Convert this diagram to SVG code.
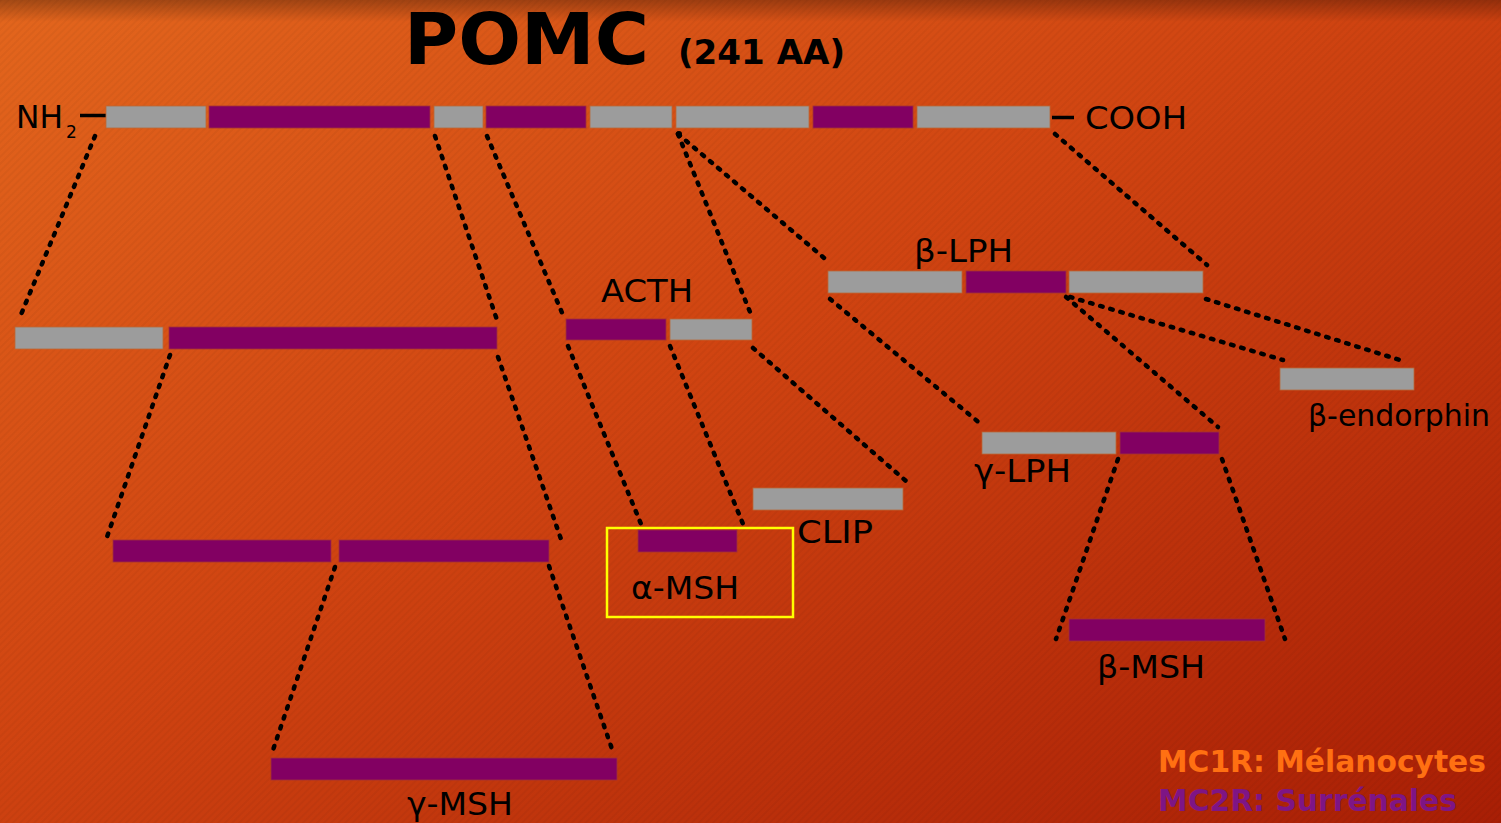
<svg xmlns="http://www.w3.org/2000/svg" width="1501" height="823" viewBox="0 0 1501 823">
<defs>
<linearGradient id="bg" x1="0" y1="0" x2="1" y2="1">
<stop offset="0" stop-color="#e3661d"/>
<stop offset="0.45" stop-color="#d04411"/>
<stop offset="1" stop-color="#a81e05"/>
</linearGradient>
<linearGradient id="topshade" x1="0" y1="0" x2="0" y2="1">
<stop offset="0" stop-color="#000" stop-opacity="0.28"/>
<stop offset="1" stop-color="#000" stop-opacity="0"/>
</linearGradient>
<pattern id="stripes" width="5" height="5" patternUnits="userSpaceOnUse" patternTransform="rotate(-45)">
<rect width="5" height="2" fill="#000" opacity="0.035"/>
</pattern>
<style>
.g{fill:#9c9c9c;stroke:#b8693a;stroke-width:0.8}
.p{fill:#820062;stroke:#a0303a;stroke-width:0.8}
.d{fill:none;stroke:#000;stroke-width:4.5;stroke-dasharray:2.5 8;stroke-linecap:round}
.t{font-family:"DejaVu Sans","Liberation Sans",sans-serif;font-size:32.5px;fill:#000}
.tb{font-family:"DejaVu Sans","Liberation Sans",sans-serif;font-weight:bold;fill:#000}
.lg{font-family:"DejaVu Sans","Liberation Sans",sans-serif;font-weight:bold;font-size:30px}
</style>
</defs>
<rect width="1501" height="823" fill="url(#bg)"/>
<rect width="1501" height="823" fill="url(#stripes)"/>
<rect width="1501" height="22" fill="url(#topshade)"/>

<g id="title">
<text class="tb" x="404" y="64" font-size="72" textLength="245" lengthAdjust="spacingAndGlyphs">POMC</text>
<text class="tb" x="678" y="64" font-size="34" textLength="167" lengthAdjust="spacingAndGlyphs">(241 AA)</text>
</g>

<g id="connectors">
<path class="d" d="M95,136 L20,317"/>
<path class="d" d="M435,136 L497,320"/>
<path class="d" d="M487,136 L563,315"/>
<path class="d" d="M678,134 L750,312"/>
<path class="d" d="M678,134 L830,263"/>
<path class="d" d="M1055,134 L1207,265"/>
<path class="d" d="M170,355 L107,537"/>
<path class="d" d="M498,357 L562,542"/>
<path class="d" d="M335,567 L273,750"/>
<path class="d" d="M549,566 L612,749"/>
<path class="d" d="M568,346 L641,524"/>
<path class="d" d="M670,346 L743,524"/>
<path class="d" d="M753,348 L906,481"/>
<path class="d" d="M830,299 L982,425"/>
<path class="d" d="M1066,297 L1218,427"/>
<path class="d" d="M1070,297 L1283,360"/>
<path class="d" d="M1206,299 L1403,361"/>
<path class="d" d="M1118,459 L1056,639"/>
<path class="d" d="M1222,459 L1285,639"/>
<circle cx="679" cy="134" r="3" fill="#000"/>
</g>

<g id="pomc">
<line x1="80" y1="115.5" x2="106" y2="115.5" stroke="#000" stroke-width="3.5"/>
<line x1="1052" y1="117.5" x2="1074" y2="117.5" stroke="#000" stroke-width="3.5"/>
<text class="t" x="16" y="128" textLength="47" lengthAdjust="spacingAndGlyphs">NH</text>
<text class="t" x="66" y="138" style="font-size:17px">2</text>
<text class="t" x="1085" y="129" textLength="102" lengthAdjust="spacingAndGlyphs">COOH</text>
<rect class="g" x="106" y="106" width="100" height="22"/>
<rect class="p" x="209" y="106" width="221" height="22"/>
<rect class="g" x="434" y="106" width="49" height="22"/>
<rect class="p" x="486" y="106" width="100" height="22"/>
<rect class="g" x="590" y="106" width="82" height="22"/>
<rect class="g" x="676" y="106" width="133" height="22"/>
<rect class="p" x="813" y="106" width="100" height="22"/>
<rect class="g" x="917" y="106" width="133" height="22"/>
</g>

<g id="n-terminal">
<rect class="g" x="15" y="327" width="148" height="22"/>
<rect class="p" x="169" y="327" width="328" height="22"/>
</g>

<g id="msh-precursor">
<rect class="p" x="113" y="540" width="218" height="22"/>
<rect class="p" x="339" y="540" width="210" height="22"/>
</g>

<g id="gamma-msh">
<rect class="p" x="271" y="758" width="346" height="22"/>
<text class="t" x="407" y="815" textLength="106" lengthAdjust="spacingAndGlyphs">γ-MSH</text>
</g>

<g id="acth">
<text class="t" x="601" y="302" textLength="92" lengthAdjust="spacingAndGlyphs">ACTH</text>
<rect class="p" x="566" y="319" width="100" height="21"/>
<rect class="g" x="670" y="319" width="82" height="21"/>
</g>

<g id="alpha-msh">
<rect x="607" y="528" width="186" height="89" fill="none" stroke="#ffff00" stroke-width="2.5"/>
<rect class="p" x="638" y="530" width="99" height="22"/>
<text class="t" x="631" y="599" textLength="108" lengthAdjust="spacingAndGlyphs">α-MSH</text>
</g>

<g id="clip">
<rect class="g" x="753" y="488" width="150" height="22"/>
<text class="t" x="797" y="543" textLength="76" lengthAdjust="spacingAndGlyphs">CLIP</text>
</g>

<g id="beta-lph">
<text class="t" x="914" y="262" textLength="99" lengthAdjust="spacingAndGlyphs">β-LPH</text>
<rect class="g" x="828" y="271" width="134" height="22"/>
<rect class="p" x="966" y="271" width="100" height="22"/>
<rect class="g" x="1069" y="271" width="134" height="22"/>
</g>

<g id="beta-endorphin">
<rect class="g" x="1280" y="368" width="134" height="22"/>
<text class="t" x="1308" y="426" style="font-size:30px" textLength="182" lengthAdjust="spacingAndGlyphs">β-endorphin</text>
</g>

<g id="gamma-lph">
<rect class="g" x="982" y="432" width="134" height="22"/>
<rect class="p" x="1120" y="432" width="99" height="22"/>
<text class="t" x="974" y="482" textLength="97" lengthAdjust="spacingAndGlyphs">γ-LPH</text>
</g>

<g id="beta-msh">
<rect class="p" x="1069" y="619" width="196" height="22"/>
<text class="t" x="1097" y="678" textLength="108" lengthAdjust="spacingAndGlyphs">β-MSH</text>
</g>

<g id="legend">
<text class="lg" x="1158" y="772" fill="#ff7012" textLength="328" lengthAdjust="spacingAndGlyphs">MC1R: Mélanocytes</text>
<text class="lg" x="1158" y="811" fill="#7e1585" textLength="299" lengthAdjust="spacingAndGlyphs">MC2R: Surrénales</text>
</g>
</svg>
